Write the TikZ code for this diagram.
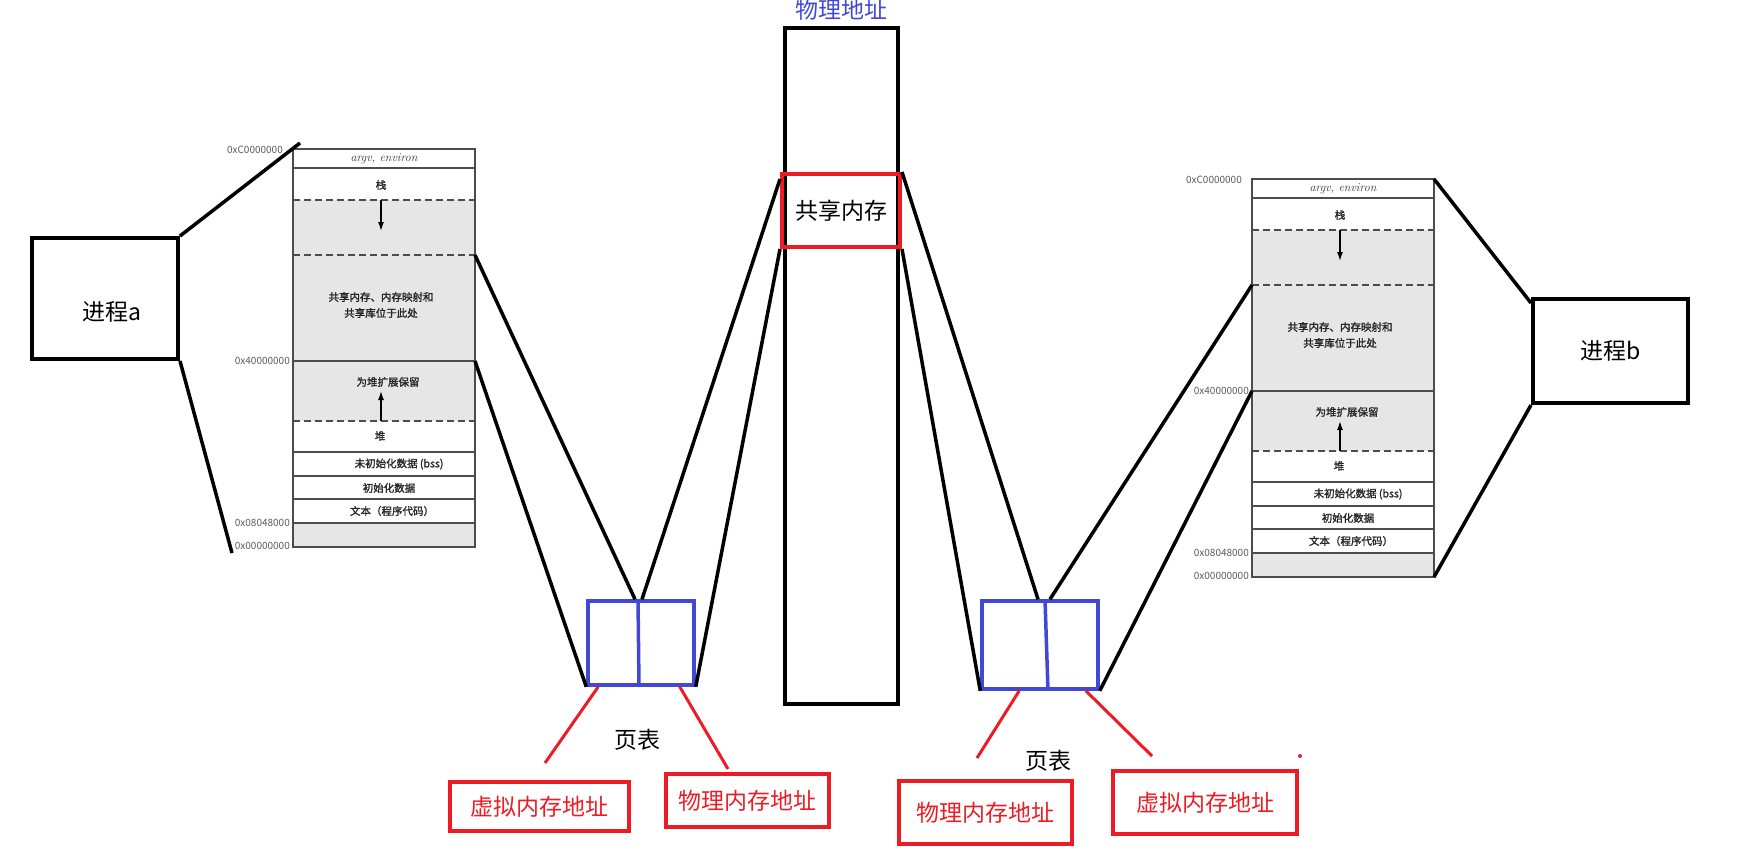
\documentclass[tikz,border=0pt]{standalone}
\usepackage{fontspec}
\newfontfamily\cjk{Noto Sans CJK SC}
\newfontfamily\cjkb[FakeBold=1.6]{Noto Sans CJK SC}
\usetikzlibrary{positioning, arrows.meta}

\definecolor{tblue}{RGB}{66,72,212}
\definecolor{tred}{RGB}{237,28,36}
\definecolor{mapgray}{RGB}{230,230,230}

\tikzset{
  bigtext/.style={font=\cjk\fontsize{23}{27}\selectfont, inner sep=0pt},
  proc/.style={draw, line width=4pt, bigtext},
  addr/.style={draw=tred, line width=3.5pt, text=tred, bigtext},
  ptable/.style={draw=tblue, line width=3.5pt, inner sep=0pt},
  link/.style={line width=3.5pt},
  redlink/.style={draw=tred, line width=3pt},
  maptext/.style={font=\cjkb\fontsize{10.5}{16}\selectfont, text=black!85, inner sep=0pt},
  hexlabel/.style={font=\cjk\fontsize{10}{12}\selectfont, text=black!65, anchor=east, inner sep=0pt},
  mapline/.style={draw=black!70, line width=1.2pt},
  growarrow/.style={-{Latex[length=9pt, width=6pt]}, line width=1.3pt},
}

% address space of one process, #1 name, (#2,#3) top left corner
\newcommand{\addrspace}[3]{%
\begin{scope}[shift={(#2,#3)}]
  \fill[mapgray] (0,51) rectangle (182,272);
  \fill[mapgray] (0,374) rectangle (182,398);
  \foreach \yy in {19,212,303,327,350,374}
    \draw[mapline] (0,\yy) -- (182,\yy);
  \foreach \yy in {51,106,272}
    \draw[mapline, dash pattern=on 7pt off 4pt] (0,\yy) -- (182,\yy);
  \draw[mapline] (0,0) rectangle (182,398);
  \draw[growarrow] (88,51) -- (88,82);
  \draw[growarrow] (88,272) -- (88,242);
  \node[font=\itshape\fontsize{12}{14}\selectfont, text=black!80, inner sep=0pt] (#1-argv) at (91,9.5) {argv, environ};
  \node[maptext] (#1-stack) at (88,36) {栈};
  \node[maptext, align=center] (#1-shm) at (88,156) {共享内存、内存映射和\\共享库位于此处};
  \node[maptext] (#1-rsv) at (95,233) {为堆扩展保留};
  \node[maptext] (#1-heap) at (87,287) {堆};
  \node[maptext] (#1-bss) at (106,315) {未初始化数据 (bss)};
  \node[maptext] (#1-data) at (96,339) {初始化数据};
  \node[maptext] (#1-text) at (99,362) {文本（程序代码）};
  \node[hexlabel] (#1-hc) at (-10,1) {0xC0000000};
  \node[hexlabel] (#1-h4) at (-3,212) {0x40000000};
  \node[hexlabel] (#1-h8) at (-3,374) {0x08048000};
  \node[hexlabel] (#1-h0) at (-3,397) {0x00000000};
  \coordinate (#1-nw) at (0,0);
  \coordinate (#1-ne) at (182,0);
  \coordinate (#1-sw) at (0,398);
  \coordinate (#1-se) at (182,398);
  \coordinate (#1-w1) at (0,106);
  \coordinate (#1-w2) at (0,212);
  \coordinate (#1-e1) at (182,106);
  \coordinate (#1-e2) at (182,212);
\end{scope}}

\begin{document}
\begin{tikzpicture}[x=1pt, y=-1pt]
    \useasboundingbox (0,0) rectangle (1755,867);

    \addrspace{ma}{293}{149}
    \addrspace{mb}{1252}{179}

    % physical memory
    \node[draw, line width=4pt, minimum width=113pt, minimum height=676pt, inner sep=0pt] (phys) at (841.5,366) {};
    \node[bigtext, text=tblue, above=5pt of phys] (phys-label) {物理地址};
    \node[draw=tred, line width=4pt, minimum width=118pt, minimum height=73pt, bigtext] (shm) at (841,210.5) {共享内存};

    % processes
    \node[proc, minimum width=146pt, minimum height=121pt] (pa) at (105,298.5) {};
    \node[bigtext] (pa-text) at (112,312) {进程a};
    \node[proc, minimum width=155pt, minimum height=104pt] (pb) at (1610.5,351) {进程b};

    % page tables
    \node[ptable, minimum width=106pt, minimum height=84pt] (pta) at (641,643) {};
    \node[ptable, minimum width=116pt, minimum height=88pt] (ptb) at (1040,645) {};
    \draw[tblue, line width=3.5pt] ([xshift=-3pt]pta.north) -- ([xshift=-2pt]pta.south);
    \draw[tblue, line width=3.5pt] ([xshift=5pt]ptb.north) -- ([xshift=8pt]ptb.south);
    \coordinate (pta-top) at ([xshift=-3pt]pta.north);
    \coordinate (ptb-top) at ([xshift=5pt]ptb.north);
    \node[bigtext, below=42pt of pta, xshift=-4pt] (pta-label) {页表};
    \node[bigtext, below=59pt of ptb, xshift=8pt] (ptb-label) {页表};

    % address boxes
    \node[addr, minimum width=179pt, minimum height=49pt] (va1) at (539.5,806.5) {虚拟内存地址};
    \node[addr, minimum width=163pt, minimum height=53pt] (pm1) at (747.5,800.5) {物理内存地址};
    \node[addr, minimum width=173pt, minimum height=63pt] (pm2) at (985.5,812.5) {物理内存地址};
    \node[addr, minimum width=184pt, minimum height=63pt] (va2) at (1205,802.5) {虚拟内存地址};

    \coordinate (va1-tip) at (545,763);
    \coordinate (pm1-tip) at (728,769);
    \coordinate (pm2-tip) at (977,758);
    \coordinate (va2-tip) at (1152,756);

    % process a side
    \draw[link] (pa.north east) -- ([shift={(7pt,6pt)}]ma-nw);
    \draw[link] (pa.south east) -- ([shift={(-61pt,-6pt)}]ma-sw);
    \draw[link] (ma-e1) -- ([xshift=-3pt]pta-top);
    \draw[link] (ma-e2) -- (pta.south west);
    \draw[link] ([xshift=4pt]pta-top) -- ([yshift=-7pt]shm.north west);
    \draw[link] (pta.south east) -- (shm.south west);

    % process b side
    \draw[link] (shm.north east) -- ([xshift=-7pt]ptb-top);
    \draw[link] (shm.south east) -- (ptb.south west);
    \draw[link] ([xshift=5pt]ptb-top) -- (mb-w1);
    \draw[link] (ptb.south east) -- (mb-w2);
    \draw[link] (mb-ne) -- ([yshift=-6pt]pb.north west);
    \draw[link] (pb.south west) -- (mb-se);

    % red pointers
    \draw[redlink] ([xshift=12pt]pta.south west) -- (va1-tip);
    \draw[redlink] ([xshift=-16pt]pta.south east) -- (pm1-tip);
    \draw[redlink] ([xshift=39pt]ptb.south west) -- (pm2-tip);
    \draw[redlink] ([xshift=-14pt]ptb.south east) -- (va2-tip);
    \fill[tred] (1300,756) circle (2pt);
\end{tikzpicture}
\end{document}
